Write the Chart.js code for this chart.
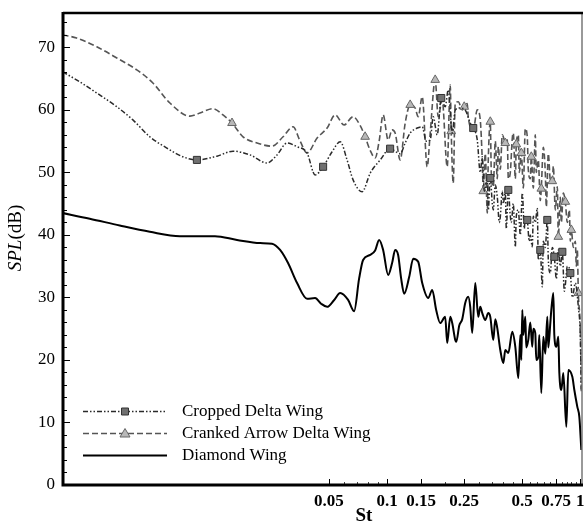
<!DOCTYPE html>
<html><head><meta charset="utf-8">
<script src="https://cdn.jsdelivr.net/npm/chart.js@4.4.1/dist/chart.umd.min.js"></script>
<style>html,body{margin:0;padding:0;background:#fff;}</style>
</head><body>
<canvas id="c" width="588" height="523"></canvas>
<script>
// ---- axis ticks ----
const xTicks = [0.05, 0.1, 0.15, 0.25, 0.5, 0.75, 1];
const xTickLabels = ['0.05', '0.1', '0.15', '0.25', '0.5', '0.75', '1'];
const yTicks = [0, 10, 20, 30, 40, 50, 60, 70];
const yTickLabels = ['0', '10', '20', '30', '40', '50', '60', '70'];

// ---- series names ----
const seriesNames = ['Cropped Delta Wing', 'Cranked Arrow Delta Wing', 'Diamond Wing'];

// ---- Cropped Delta Wing ----
const croppedSt = [0.00209,0.00256,0.00314,0.00399,0.00483,0.00591,0.00724,0.00877,0.01036,0.01316,0.01593,0.01952,0.02389,0.02692,0.03034,0.03419,0.03852,0.04237,0.04661,0.05188,0.05715,0.06203,0.06665,0.07419,0.08176,0.09212,0.1036,0.1168,0.124,0.1316,0.1431,0.1519,0.1593,0.1671,0.1732,0.1816,0.1905,0.1998,0.2071,0.2172,0.2252,0.2389,0.2536,0.2692,0.279,
  0.2927,0.3034,0.3107,0.3183,0.3299,0.3338,0.3419,0.3502,0.3543,0.3629,0.3716,0.3806,0.3852,0.3945,0.3992,0.4089,0.4138,0.4238,0.434,0.4392,0.4498,0.4607,0.4662,0.4775,0.489,0.5008,0.5127,0.5188,0.5313,0.5441,0.5507,0.564,0.5708,0.5845,0.5986,0.6058,0.6205,0.6355,0.6431,0.6587,0.6746,0.6827,0.6992,0.716,0.7334,0.7511,0.7692,0.7878,0.8068,0.8263,0.8362,0.8563,0.8876,0.909,0.9421,0.9764,1.0,1.012];
const croppedSPL = [66.1,64.5,62.7,60.5,58.4,55.7,53.9,52.5,52.0,52.6,53.4,52.8,51.5,52.8,54.7,54.1,53.1,49.6,50.9,53.3,54.9,52.0,48.8,46.9,49.9,52.0,53.8,53.0,54.7,56.3,57.1,57.3,55.0,55.2,58.9,56.0,61.9,60.5,63.2,56.3,60.0,60.3,60.0,57.9,57.1,
  55.2,50.0,52.5,47.0,49.3,44.0,49.1,45.0,44.0,48.0,46.1,42.0,42.9,47.0,45.0,46.9,41.0,47.2,43.0,42.0,45.0,38.1,43.0,44.0,40.0,46.7,41.0,43.0,42.4,39.0,40.0,38.1,43.0,42.0,44.3,36.0,37.6,31.7,39.0,38.0,42.4,36.0,33.9,38.0,36.5,33.0,37.6,35.0,37.3,31.0,32.0,35.0,33.9,30.0,32.3,28.5,23.7,15.0];
const croppedMarkerSt = [0.01036,0.04661,0.1036,0.1905,0.279,0.3419,0.4238,0.5313,0.6205,0.6746,0.7334,0.8068,0.8876];

// ---- Cranked Arrow Delta Wing ----
const crankedSt = [0.00209,0.00247,0.00314,0.00399,0.00506,0.00613,0.00751,0.00953,0.01074,0.01255,0.01414,0.01574,0.01795,0.02121,0.02536,0.02892,0.03258,0.03545,0.03852,0.0434,0.0489,0.05378,0.05986,0.06665,0.07256,0.07691,0.08176,0.08667,0.09091,0.09534,0.1012,0.1061,0.11,0.1168,0.124,0.1316,0.1397,0.1448,0.1519,0.1612,0.1671,0.1773,0.1838,0.1927,0.2046,0.2121,0.2146,0.2198,0.2252,0.2334,0.2447,0.2506,0.2597,0.2628,0.279,0.2927,
  0.3034,0.3107,0.3144,0.3221,0.3299,0.3338,0.3419,0.346,0.3543,0.3629,0.3716,0.3761,0.3852,0.3945,0.3992,0.4089,0.4188,0.4238,0.434,0.4445,0.4498,0.4607,0.4662,0.4775,0.4832,0.4949,0.5068,0.5188,0.5313,0.5377,0.5507,0.5573,0.5708,0.5845,0.5915,0.6058,0.6205,0.6279,0.6431,0.6587,0.6666,0.6827,0.6992,0.716,0.7247,0.7422,0.7601,0.7692,0.7878,0.7973,0.8165,0.8362,0.8563,0.8771,0.8876,0.8982,0.9199,0.9421,0.9534,0.9648,0.9764,1.0,1.012];
const crankedSPL = [72.0,71.5,70.1,68.3,66.4,64.3,61.1,59.0,59.5,60.2,59.2,57.9,55.7,54.7,54.2,55.7,57.3,55.0,53.1,55.5,57.1,59.2,57.6,58.9,57.5,55.7,53.5,52.3,55.0,59.2,55.2,56.8,56.3,52.0,57.9,60.8,60.3,58.9,62.1,50.9,56.3,64.8,58.9,61.6,50.9,64.0,56.6,48.3,61.1,61.3,60.0,60.5,61.0,58.9,56.8,60.0,
  58.4,52.0,47.0,53.0,43.5,52.0,58.1,50.0,47.7,55.0,49.0,54.1,50.5,56.0,55.7,54.7,55.2,49.0,50.0,55.5,56.3,49.0,54.5,56.0,50.0,53.1,47.5,57.0,55.7,50.5,49.0,52.5,47.5,56.0,50.0,52.0,45.5,47.4,54.0,49.9,44.5,53.0,48.8,48.6,51.0,44.0,47.7,39.7,46.0,42.0,46.7,45.3,42.0,44.0,39.0,40.8,38.0,39.0,35.0,37.6,30.7,24.8,15.0];
const crankedMarkerSt = [0.01574,0.07691,0.1316,0.1773,0.2146,0.2506,0.3144,0.3419,0.4089,0.4662,0.4949,0.5573,0.6279,0.716,0.7692,0.8362,0.8982,0.9764];

// ---- Diamond Wing ----
const diamondSt = [0.00209,0.00289,0.00413,0.00591,0.00846,0.01074,0.01285,0.01671,0.02199,0.02536,0.02792,0.0307,0.03419,0.03852,0.04237,0.04551,0.0489,0.0532,0.05715,0.06279,0.06745,0.07159,0.07508,0.08176,0.08667,0.09091,0.09534,0.1012,0.1061,0.11,0.114,0.1182,0.1225,0.1301,0.1364,0.1448,0.1519,0.1631,0.1711,0.1794,0.1882,0.1998,0.2046,0.2121,0.2172,0.2252,0.2279,0.2362,0.2447,0.2536,0.2628,0.2692,0.2757,0.2858,0.2962,0.3034,0.3107,0.3221,0.3338,0.3419,0.3543,0.3629,0.3716,0.3852,0.3992,0.4089,0.4238,0.4445,0.4607,0.4775,
  0.489,0.4949,0.5008,0.5068,0.5188,0.525,0.5377,0.5507,0.564,0.5708,0.5845,0.5915,0.6058,0.6131,0.6279,0.6431,0.6587,0.6746,0.6827,0.6992,0.7076,0.7247,0.7334,0.7511,0.7692,0.7784,0.7973,0.8165,0.8462,0.8666,0.909,0.931,0.9648,0.9881,1.012];
const diamondSPL = [43.5,42.6,41.5,40.5,39.8,39.8,39.8,39.2,38.7,38.6,37.6,35.5,32.3,29.8,29.9,29.0,28.5,29.6,30.7,29.6,27.8,33.0,36.0,36.8,37.5,39.2,37.6,33.6,35.5,37.6,36.8,33.0,30.6,33.3,36.2,35.7,32.3,29.9,31.2,28.0,25.9,26.9,22.7,26.9,25.9,23.2,22.9,25.5,26.5,29.1,30.1,28.5,24.3,32.3,26.9,28.5,27.5,26.4,27.5,26.9,23.2,26.5,25.1,21.6,19.5,21.6,21.1,24.5,22.1,17.1,
  24.0,20.0,28.0,24.0,26.9,22.0,23.2,26.0,22.1,25.0,24.3,20.0,20.5,24.0,14.7,23.7,21.0,26.9,22.0,25.9,28.0,30.7,24.0,22.1,23.7,18.0,15.2,17.9,9.3,18.4,17.3,15.2,12.5,10.9,5.6];

function pts(xs, ys) { return xs.map((x, i) => ({ x: x, y: ys[i] })); }
const croppedSet = new Set(croppedMarkerSt);
const crankedSet = new Set(crankedMarkerSt);

const SERIF = '"Liberation Serif", "Times New Roman", serif';
const styles = [
  { color: '#2a2a2a', width: 1.5, dash: [5, 2, 1.5, 2, 1.5, 2], marker: 'rect', fill: '#707070', edge: '#333' },
  { color: '#555555', width: 1.6, dash: [6, 3], marker: 'triangle', fill: '#b8b8b8', edge: '#666' },
  { color: '#000000', width: 2, dash: [], marker: null }
];

function drawMarker(ctx, type, x, y, fill, edge) {
  ctx.save();
  ctx.setLineDash([]);
  ctx.fillStyle = fill; ctx.strokeStyle = edge; ctx.lineWidth = 1;
  ctx.beginPath();
  if (type === 'rect') { ctx.rect(x - 3.5, y - 3.5, 7, 7); }
  else { ctx.moveTo(x, y - 5); ctx.lineTo(x + 5, y + 3.5); ctx.lineTo(x - 5, y + 3.5); ctx.closePath(); }
  ctx.fill(); ctx.stroke();
  ctx.restore();
}

const decorPlugin = {
  id: 'decor',
  afterDatasetsDraw(chart) {
    const { ctx, chartArea: a, scales } = chart;
    const x = scales.x, y = scales.y;
    ctx.save();
    ctx.setLineDash([]);
    ctx.strokeStyle = '#000';
    ctx.lineWidth = 1;
    // y ticks (inward)
    for (let v = 0; v <= 74; v += 2) {
      const py = Math.round(y.getPixelForValue(v)) + 0.5;
      const len = (v % 10 === 0) ? 7 : 4;
      ctx.beginPath(); ctx.moveTo(a.left, py); ctx.lineTo(a.left + len, py); ctx.stroke();
    }
    // x ticks (inward)
    const minor = [0.06, 0.07, 0.08, 0.09, 0.2, 0.3, 0.35, 0.4, 0.45, 0.55, 0.6, 0.65, 0.7, 0.8, 0.85, 0.9, 0.95];
    ctx.strokeStyle = '#444';
    minor.forEach(v => {
      const px = Math.round(x.getPixelForValue(v)) + 0.5;
      ctx.beginPath(); ctx.moveTo(px, a.bottom); ctx.lineTo(px, a.bottom - 3); ctx.stroke();
    });
    ctx.strokeStyle = '#000';
    xTicks.forEach(v => {
      const px = Math.round(x.getPixelForValue(v)) + 0.5;
      ctx.beginPath(); ctx.moveTo(px, a.bottom); ctx.lineTo(px, a.bottom - 6); ctx.stroke();
    });
    // frame
    ctx.strokeStyle = '#777'; ctx.lineWidth = 1.5;
    ctx.beginPath(); ctx.moveTo(a.right, a.top); ctx.lineTo(a.right, a.bottom); ctx.stroke();
    ctx.strokeStyle = '#000'; ctx.lineWidth = 2.5;
    ctx.beginPath(); ctx.moveTo(a.left, a.top); ctx.lineTo(a.right + 1, a.top); ctx.stroke();
    ctx.lineWidth = 3;
    ctx.beginPath(); ctx.moveTo(a.left, a.top - 1); ctx.lineTo(a.left, a.bottom); ctx.lineTo(a.right + 1, a.bottom); ctx.stroke();

    // legend
    const rows = [411, 433, 455];
    ctx.font = '17px ' + SERIF;
    ctx.textBaseline = 'middle';
    ctx.fillStyle = '#000';
    styles.forEach((s, i) => {
      const ry = rows[i] + 0.5;
      ctx.save();
      ctx.strokeStyle = s.color; ctx.lineWidth = s.width; ctx.setLineDash(s.dash);
      ctx.beginPath(); ctx.moveTo(83, ry); ctx.lineTo(167, ry); ctx.stroke();
      ctx.restore();
      if (s.marker) drawMarker(ctx, s.marker, 125, ry, s.fill, s.edge);
      ctx.fillStyle = '#000';
      ctx.fillText(seriesNames[i], 182, rows[i] + 1);
    });

    // x title
    ctx.font = 'bold 19px ' + SERIF;
    ctx.textAlign = 'center'; ctx.textBaseline = 'alphabetic';
    ctx.fillText('St', 364, 521);

    // y title: SPL italic + (dB)
    ctx.translate(16, 238);
    ctx.rotate(-Math.PI / 2);
    const f1 = 'italic 19px ' + SERIF, f2 = '19px ' + SERIF;
    ctx.font = f1; const w1 = ctx.measureText('SPL').width;
    ctx.font = f2; const w2 = ctx.measureText('(dB)').width;
    const start = -(w1 + w2) / 2;
    ctx.textAlign = 'left'; ctx.textBaseline = 'middle';
    ctx.font = f1; ctx.fillText('SPL', start, 0);
    ctx.font = f2; ctx.fillText('(dB)', start + w1, 0);
    ctx.restore();
  }
};

function mkDataset(i, xs, ys, set) {
  const s = styles[i];
  return {
    label: seriesNames[i],
    data: pts(xs, ys),
    borderColor: s.color,
    borderWidth: s.width,
    borderDash: s.dash,
    cubicInterpolationMode: 'monotone',
    pointStyle: s.marker || 'circle',
    pointRadius: set ? (c => (c.raw && set.has(c.raw.x)) ? 5 : 0) : 0,
    pointBackgroundColor: s.fill,
    pointBorderColor: s.edge,
    pointBorderWidth: 1,
    fill: false
  };
}

new Chart(document.getElementById('c'), {
  type: 'line',
  data: {
    datasets: [
      mkDataset(0, croppedSt, croppedSPL, croppedSet),
      mkDataset(1, crankedSt, crankedSPL, crankedSet),
      mkDataset(2, diamondSt, diamondSPL, null)
    ]
  },
  options: {
    responsive: false,
    animation: false,
    devicePixelRatio: 1,
    layout: { padding: { top: 13, right: 6, left: 0, bottom: 0 } },
    plugins: { legend: { display: false }, tooltip: { enabled: false } },
    scales: {
      x: {
        type: 'logarithmic', min: 0.0021, max: 1.02,
        grid: { display: false, drawTicks: false },
        border: { display: false },
        afterBuildTicks: s => { s.ticks = xTicks.map(v => ({ value: v })); },
        ticks: {
          autoSkip: false, maxRotation: 0, minRotation: 0, padding: 6, color: '#000',
          font: { family: SERIF, size: 17, weight: 'bold' },
          callback: (v, i) => xTickLabels[i]
        },
        afterFit: s => { s.height = 38; s.paddingLeft = 0; s.paddingRight = 0; }
      },
      y: {
        min: 0, max: 75.5,
        grid: { display: false, drawTicks: false },
        border: { display: false },
        afterBuildTicks: s => { s.ticks = yTicks.map(v => ({ value: v })); },
        ticks: {
          padding: 8, color: '#000',
          font: { family: SERIF, size: 17 },
          callback: (v, i) => yTickLabels[i]
        },
        afterFit: s => { s.width = 63; s.paddingTop = 0; s.paddingBottom = 0; }
      }
    }
  },
  plugins: [decorPlugin]
});
</script>
</body></html>
